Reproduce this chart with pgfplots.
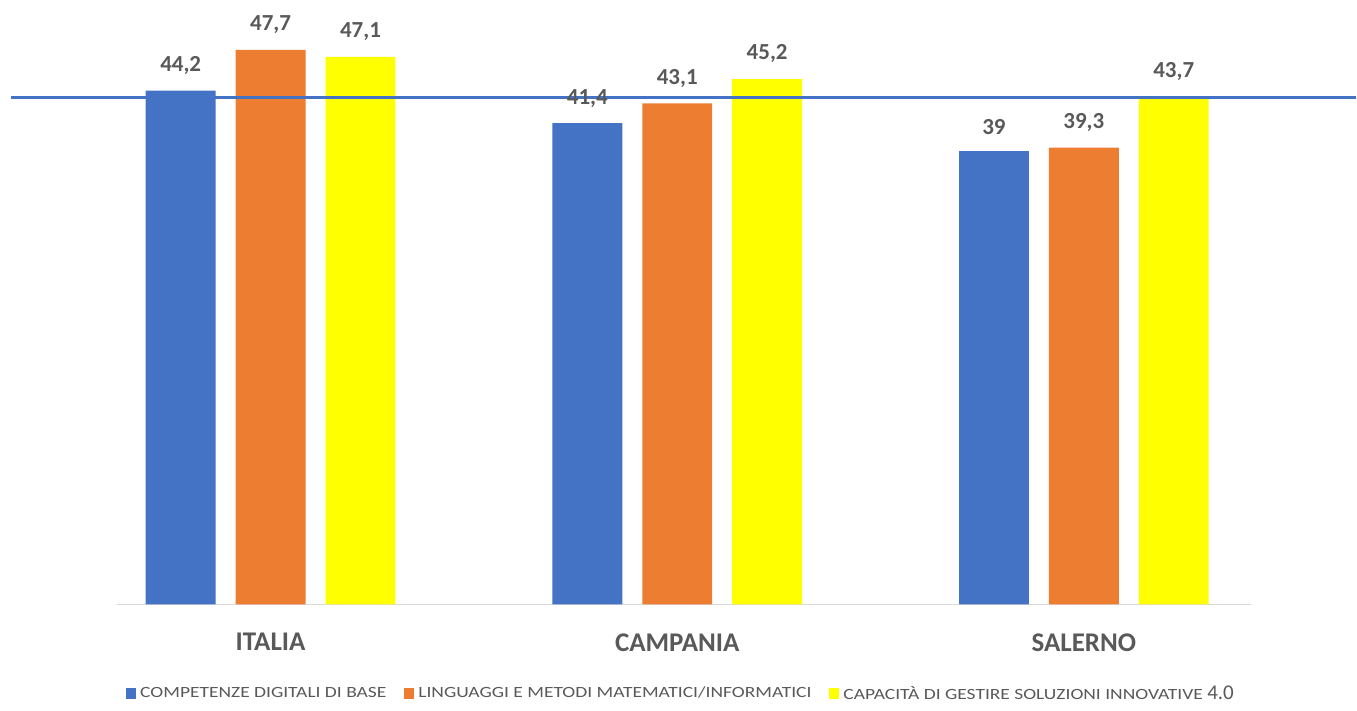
\documentclass[border=0pt]{standalone}
\usepackage{fontspec}
\setmainfont{Carlito}
\newfontfamily\legfont[FakeStretch=1.25]{Carlito}
\usepackage{pgfplots}
\pgfplotsset{compat=1.18}
\definecolor{cblue}{HTML}{4472C4}
\definecolor{corange}{HTML}{ED7D31}
\definecolor{cyellow}{HTML}{FFFF00}
\definecolor{txtgray}{HTML}{595959}

\begin{document}
\begin{tikzpicture}
\begin{axis}[
  scale only axis, width=567.5pt, height=302.5pt,
  xmin=-0.378, xmax=2.41, ymin=0, ymax=52,
  clip=false,
  axis y line=none, axis x line*=bottom,
  x axis line style={draw=black!15, line width=0.6pt, -},
  xtick={0,1,2}, xticklabels={ITALIA,CAMPANIA,SALERNO},
  major tick length=0pt,
  xticklabel style={font=\fontsize{13.5}{15}\selectfont\bfseries, text=txtgray, yshift=-11pt},
  ybar=10pt, bar width=35pt,
  /pgf/number format/assume math mode=true,
  every node near coord/.append style={font=\fontsize{11.5}{13}\selectfont\bfseries, text=txtgray, yshift=4.5pt},
  legend columns=3,
  legend style={at={(rel axis cs:0.4985,-0.148)}, anchor=center, draw=none, fill=none,
    font=\legfont\fontsize{7.8}{9}\selectfont, text=txtgray,
    /tikz/every even column/.append style={column sep=7pt}},
  legend image code/.code={\fill[#1] (0pt,-2.7pt) rectangle (5pt,2.7pt);},
]
\addplot[fill=cblue, draw=none,
  nodes near coords={\pgfmathprintnumber[fixed,precision=1,use comma]{\pgfplotspointmeta}}]
  coordinates {(0,44.2) (1,41.4) (2,39)};
\addplot[fill=corange, draw=none,
  nodes near coords={\pgfmathprintnumber[fixed,precision=1,use comma]{\pgfplotspointmeta}}]
  coordinates {(0,47.7) (1,43.1) (2,39.3)};
\addplot[fill=cyellow, draw=none,
  nodes near coords={\pgfmathprintnumber[fixed,precision=1,use comma]{\pgfplotspointmeta}}]
  coordinates {(0,47.1) (1,45.2) (2,43.7)};
\addplot[sharp plot, forget plot, draw=cblue, line width=1.5pt]
  coordinates {(-0.639,43.6) (2.668,43.6)};
\legend{COMPETENZE DIGITALI DI BASE, LINGUAGGI E METODI MATEMATICI/INFORMATICI,
  {CAPACITÀ DI GESTIRE SOLUZIONI INNOVATIVE {\setmainfont{Carlito}\fontsize{10.5}{11}\selectfont 4.0}}}
\path (rel axis cs:-0.1031,-0.162) rectangle (rel axis cs:1.0925,1);
\end{axis}
\end{tikzpicture}
\end{document}
